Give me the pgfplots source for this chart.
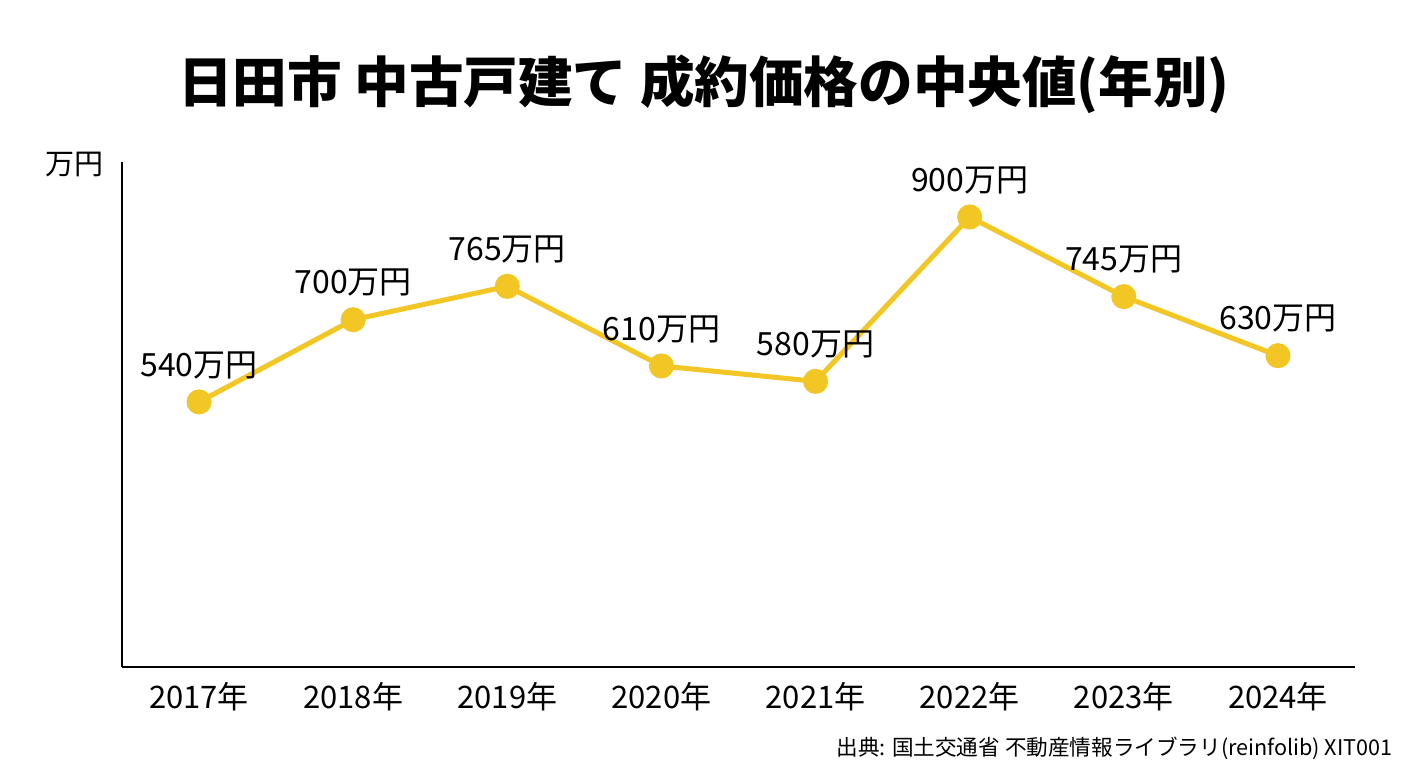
\documentclass[border=0pt]{standalone}
\usepackage{fontspec}
\setmainfont{Noto Sans CJK JP}
\usepackage{pgfplots}
\pgfplotsset{compat=1.18}
\definecolor{ly}{RGB}{242,198,36}
\begin{document}
\begin{tikzpicture}[x=0.5pt,y=0.5pt]
\useasboundingbox (0,0) rectangle (1408,768);
\fill[white] (0,0) rectangle (1408,768);
\node[font=\fontsize{27.3}{30}\selectfont\bfseries] at (704,684) {日田市 中古戸建て 成約価格の中央値(年別)};
\node[font=\fontsize{14.5}{16}\selectfont] at (75,604) {万円};
\node[font=\fontsize{10.8}{12}\selectfont, anchor=east, inner sep=0pt] at (1393,20) {出典: 国土交通省 不動産情報ライブラリ(reinfolib) XIT001};
\begin{axis}[
  at={(61pt,50.5pt)}, anchor=south west,
  scale only axis, width=616.5pt, height=252.5pt,
  xmin=-0.5, xmax=7.5, ymin=24, ymax=1007,
  axis lines=left, axis line style={-, line width=1pt, black},
  ytick=\empty,
  xtick={0,...,7},
  xticklabels={2017年,2018年,2019年,2020年,2021年,2022年,2023年,2024年},
  major tick length=0pt,
  x tick label style={font=\fontsize{15.5}{17}\selectfont, yshift=-4pt},
  /pgf/number format/assume math mode=true,
  nodes near coords={\pgfmathprintnumber{\pgfplotspointmeta}万円},
  every node near coord/.append style={font=\fontsize{16}{18}\selectfont, black, yshift=7pt},
  clip=false,
]
\addplot[ly, line width=2.5pt, mark=*, mark size=5pt, mark options={fill=ly, draw=ly}]
coordinates {(0,540) (1,700) (2,765) (3,610) (4,580) (5,900) (6,745) (7,630)};
\end{axis}
\end{tikzpicture}
\end{document}
